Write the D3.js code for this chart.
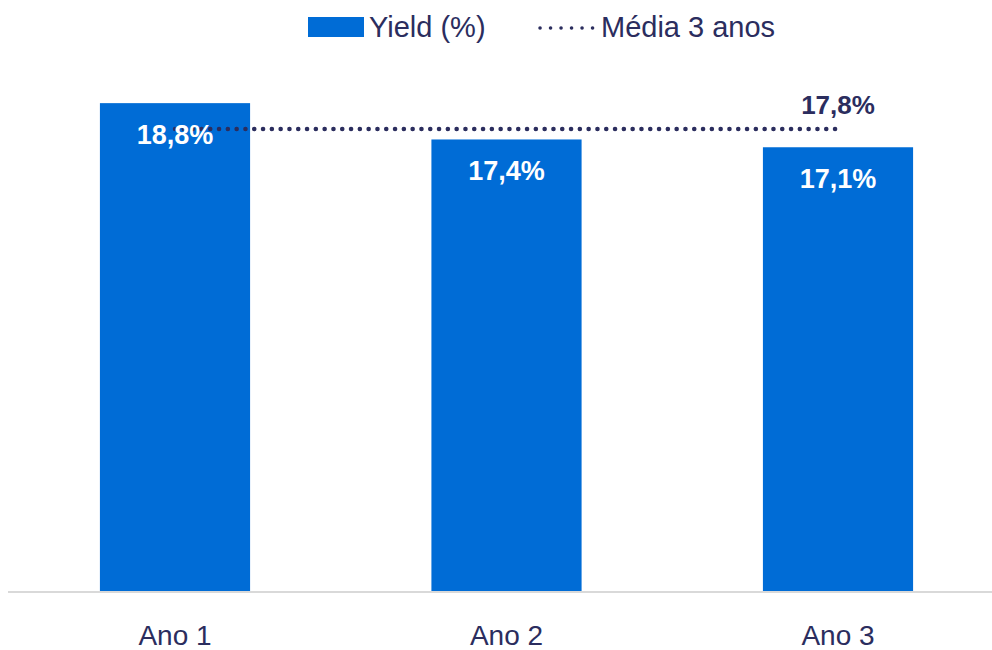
<!DOCTYPE html>
<html>
<head>
<meta charset="utf-8">
<script src="https://cdn.jsdelivr.net/npm/d3@7"></script>
<style>
  body { margin: 0; background: #fff; }
  svg { display: block; font-family: "Liberation Sans", Arial, sans-serif; }
</style>
</head>
<body>
<svg width="992" height="650"></svg>
<script>
// chart data
const categories = ['Ano 1', 'Ano 2', 'Ano 3'];
const yieldValues = [18.8, 17.4, 17.1];
const yieldLabels = ['18,8%', '17,4%', '17,1%'];
const average = 17.8;
const averageLabel = '17,8%';
const legendLabels = ['Yield (%)', 'Média 3 anos'];

const blue = '#006cd6';
const navy = '#2b2d5e';

const svg = d3.select('svg');

const x = d3.scaleBand()
    .domain(categories)
    .range([9.25, 1003.75])
    .paddingInner(0.547)
    .paddingOuter(0.2735);

const y = d3.scaleLinear()
    .domain([0, 20])
    .range([591, 72]);

const data = categories.map((c, i) => ({name: c, value: yieldValues[i], label: yieldLabels[i]}));

// bars
svg.selectAll('rect.bar')
    .data(data)
    .enter()
    .append('rect')
    .attr('class', 'bar')
    .attr('x', d => x(d.name))
    .attr('y', d => y(d.value))
    .attr('width', x.bandwidth())
    .attr('height', d => y(0) - y(d.value))
    .attr('fill', blue);

// baseline
svg.append('line')
    .attr('x1', 8).attr('x2', 992)
    .attr('y1', y(0) + 1).attr('y2', y(0) + 1)
    .attr('stroke', '#d9d9d9')
    .attr('stroke-width', 2);

// average dotted line, from first to last category centre
const cx = d => x(d) + x.bandwidth() / 2;
svg.append('line')
    .attr('x1', cx(categories[0]))
    .attr('x2', cx(categories[categories.length - 1]))
    .attr('y1', y(average)).attr('y2', y(average))
    .attr('stroke', navy)
    .attr('stroke-width', 4.5)
    .attr('stroke-linecap', 'round')
    .attr('stroke-dasharray', '0.1 8.7');

svg.append('text')
    .attr('x', cx(categories[categories.length - 1]))
    .attr('y', y(average) - 15)
    .attr('text-anchor', 'middle')
    .attr('fill', navy)
    .style('font-size', '26px')
    .style('font-weight', 'bold')
    .text(averageLabel);

// bar value labels
svg.selectAll('text.value')
    .data(data)
    .enter()
    .append('text')
    .attr('class', 'value')
    .attr('x', d => cx(d.name))
    .attr('y', d => y(d.value) + 41)
    .attr('text-anchor', 'middle')
    .attr('fill', '#fff')
    .style('font-size', '27px')
    .style('font-weight', 'bold')
    .text(d => d.label);

// category axis
const xAxis = svg.append('g')
    .attr('transform', `translate(0,${y(0)})`)
    .call(d3.axisBottom(x).tickSize(0).tickPadding(34));
xAxis.select('.domain').remove();
xAxis.selectAll('text')
    .attr('fill', navy)
    .style('font-family', '"Liberation Sans", Arial, sans-serif')
    .style('font-size', '28px');

// legend
const legend = svg.append('g');
legend.append('rect')
    .attr('x', 308).attr('y', 17)
    .attr('width', 56).attr('height', 20)
    .attr('fill', blue);
legend.append('text')
    .attr('x', 369).attr('y', 37)
    .attr('fill', navy)
    .style('font-size', '29px')
    .text(legendLabels[0]);
legend.append('line')
    .attr('x1', 540).attr('x2', 593)
    .attr('y1', 28).attr('y2', 28)
    .attr('stroke', navy)
    .attr('stroke-width', 3.5)
    .attr('stroke-linecap', 'round')
    .attr('stroke-dasharray', '0.1 10.4');
legend.append('text')
    .attr('x', 601).attr('y', 37)
    .attr('fill', navy)
    .style('font-size', '29px')
    .text(legendLabels[1]);
</script>
</body>
</html>
